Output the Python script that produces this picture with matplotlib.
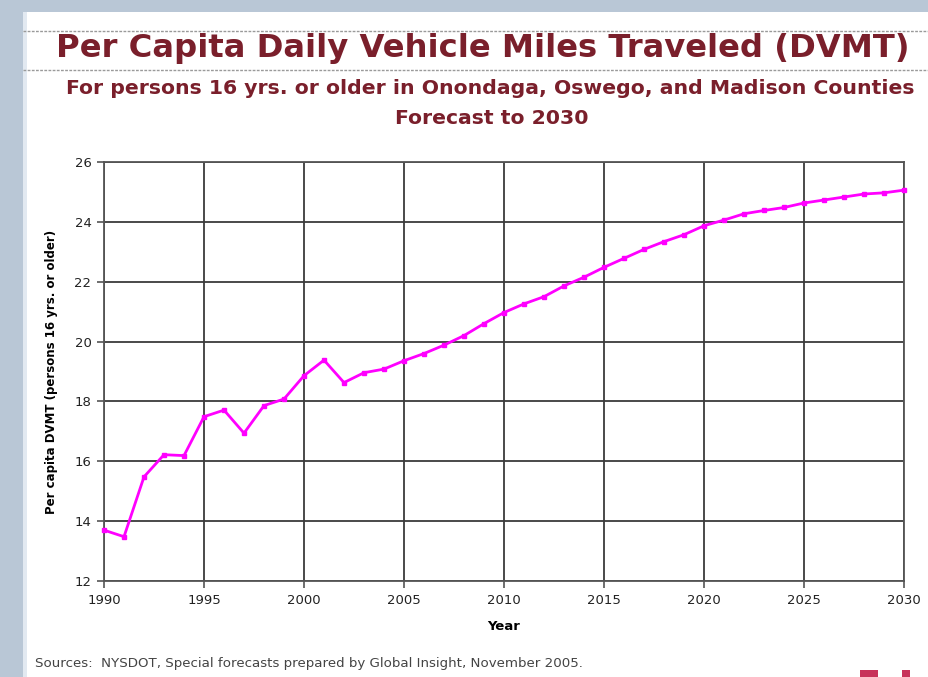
import matplotlib
matplotlib.use("Agg")
import matplotlib.pyplot as plt
from matplotlib.patches import Rectangle
from matplotlib.lines import Line2D

years = list(range(1990, 2031))
dvmt = [13.70, 13.48, 15.48, 16.22, 16.19, 17.49, 17.71, 16.94, 17.86, 18.08,
        18.86, 19.38, 18.63, 18.96, 19.08, 19.36, 19.60, 19.88, 20.20, 20.60,
        20.97, 21.26, 21.50, 21.86, 22.15, 22.48, 22.78, 23.08, 23.34, 23.57,
        23.87, 24.06, 24.27, 24.38, 24.48, 24.63, 24.73, 24.83, 24.93, 24.97,
        25.06]
x_ticks = [1990, 1995, 2000, 2005, 2010, 2015, 2020, 2025, 2030]
y_ticks = [12, 14, 16, 18, 20, 22, 24, 26]

title = "Per Capita Daily Vehicle Miles Traveled (DVMT)"
subtitle1 = "For persons 16 yrs. or older in Onondaga, Oswego, and Madison Counties"
subtitle2 = "Forecast to 2030"
ylabel = "Per capita DVMT (persons 16 yrs. or older)"
xlabel = "Year"
source = "Sources:  NYSDOT, Special forecasts prepared by Global Insight, November 2005."

W, H = 929, 677
fig = plt.figure(figsize=(W / 100, H / 100), dpi=100)
fig.patch.set_facecolor("white")

# decorative slide border strips
fig.patches.append(Rectangle((0, 1 - 12 / H), 1, 12 / H, transform=fig.transFigure,
                             facecolor="#b9c7d6", edgecolor="none", zorder=0))
fig.patches.append(Rectangle((0, 0), 23 / W, 1, transform=fig.transFigure,
                             facecolor="#b9c7d6", edgecolor="none", zorder=0))
fig.patches.append(Rectangle((23 / W, 0), 4 / W, 1 - 12 / H, transform=fig.transFigure,
                             facecolor="#e2e9f1", edgecolor="none", zorder=0))
for yy in (31, 70):
    fig.lines.append(Line2D([23 / W, 1], [1 - yy / H, 1 - yy / H], transform=fig.transFigure,
                            color="#9a9a9a", lw=1.0, ls=(0, (2, 1))))

title_color = "#7a1f2b"
fig.text(483 / W, 1 - 48 / H, title, ha="center", va="center", fontsize=23.2,
         fontweight="bold", color=title_color, family="DejaVu Sans")
fig.text(490 / W, 1 - 88 / H, subtitle1, ha="center", va="center", fontsize=14.7,
         fontweight="bold", color=title_color, family="DejaVu Sans")
fig.text(492 / W, 1 - 119 / H, subtitle2, ha="center", va="center", fontsize=14.7,
         fontweight="bold", color=title_color, family="DejaVu Sans")

ax = fig.add_axes([104 / W, 1 - 581 / H, 800 / W, 419 / H])
ax.plot(years, dvmt, color="#ff00ff", lw=2.0, marker="s", markersize=3.5,
        markerfacecolor="#ff00ff", markeredgecolor="#ff00ff", zorder=3, clip_on=False)
ax.set_xlim(1990, 2030)
ax.set_ylim(12, 26)
ax.set_xticks(x_ticks)
ax.set_yticks(y_ticks)
ax.grid(True, color="#3a3a3a", lw=1.3)
ax.set_axisbelow(True)
for s in ax.spines.values():
    s.set_color("#555555")
    s.set_linewidth(1.3)
ax.tick_params(axis="both", direction="out", length=5, width=1.2, color="#555555",
               labelsize=9.5, labelcolor="#222222", pad=4)
ax.set_xlabel(xlabel, fontsize=9.5, fontweight="bold", labelpad=10)
ax.set_ylabel(ylabel, fontsize=8.5, fontweight="bold", labelpad=12)

fig.text(35 / W, 1 - 663 / H, source, ha="left", va="center", fontsize=9.6,
         color="#444444")

# logo fragment in bottom right
fig.patches.append(Rectangle((860 / W, 0), 18 / W, 7 / H, transform=fig.transFigure,
                             facecolor="#c8325a", edgecolor="none"))
fig.patches.append(Rectangle((902 / W, 0), 8 / W, 7 / H, transform=fig.transFigure,
                             facecolor="#c8325a", edgecolor="none"))

fig.savefig("out.png", dpi=100)
